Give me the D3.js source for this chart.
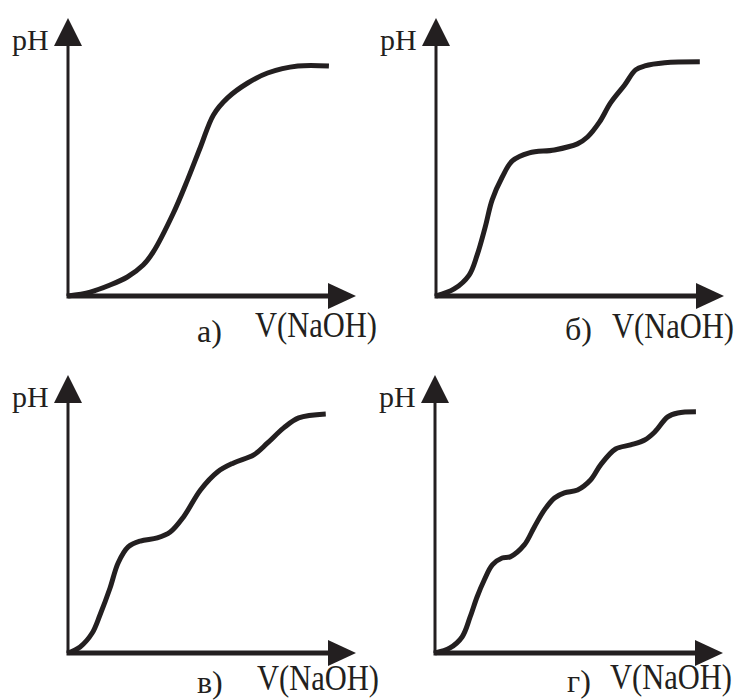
<!DOCTYPE html>
<html>
<head>
<meta charset="utf-8">
<script src="https://cdn.jsdelivr.net/npm/d3@7"></script>
<style>
	body { margin: 0; background: #fff; }
	svg { display: block; }
</style>
</head>
<body>
<svg id="plot" width="755" height="700"></svg>
<script>

// titration curves, V(NaOH) in arbitrary units 0..10, pH 0..14
const V_A  = [0, 0.77, 1.46, 2.06, 2.61, 2.96, 3.66, 4.15, 4.60, 5.05, 5.54, 6.24, 6.93, 7.98, 9.06];
const PH_A = [0, 0.20, 0.56, 0.97, 1.58, 2.25, 4.24, 5.93, 7.61, 9.25, 10.12, 10.88, 11.39, 11.75, 11.75];

const V_B  = [0, 0.63, 1.15, 1.43, 1.71, 1.95, 2.30, 2.65, 3.24, 4.11, 4.91, 5.26, 5.68, 6.06, 6.55, 6.93, 7.25, 7.94, 9.16];
const PH_B = [0, 0.36, 1.07, 2.10, 3.53, 4.91, 6.08, 6.90, 7.31, 7.46, 7.77, 8.12, 8.89, 9.86, 10.78, 11.55, 11.75, 11.91, 11.96];

const V_C  = [0, 0.42, 0.84, 1.11, 1.46, 1.74, 2.09, 2.51, 3.10, 3.55, 4.01, 4.60, 5.19, 5.75, 6.45, 6.93, 7.49, 8.01, 8.95];
const PH_C = [0, 0.31, 1.02, 1.94, 3.32, 4.60, 5.42, 5.72, 5.88, 6.18, 6.95, 8.33, 9.25, 9.71, 10.12, 10.73, 11.50, 12.01, 12.21];

const V_D  = [0, 0.52, 0.94, 1.22, 1.46, 1.71, 1.99, 2.33, 2.61, 3.10, 3.45, 3.80, 4.15, 4.49, 4.95, 5.40, 5.75, 6.27, 6.79, 7.28, 7.63, 8.08, 8.43, 9.06];
const PH_D = [0, 0.26, 0.82, 1.84, 2.86, 3.73, 4.50, 4.85, 4.91, 5.52, 6.44, 7.31, 7.92, 8.18, 8.33, 8.84, 9.61, 10.42, 10.63, 10.88, 11.29, 12.06, 12.26, 12.32];

const PANEL_LABELS = ['а)', 'б)', 'в)', 'г)'];
const Y_LABEL = 'pH';
const X_LABEL = 'V(NaOH)';
const X_MAX = 10;
const Y_MAX = 14.2;

const SERIES = [[V_A, PH_A], [V_B, PH_B], [V_C, PH_C], [V_D, PH_D]];

// layout: origin of each panel and label offsets
const LAYOUT = [
	{ ox: 68,  oy: 296, xl: [187, 41], pl: [129, 46] },
	{ ox: 436, oy: 296, xl: [176, 42], pl: [129, 44] },
	{ ox: 68,  oy: 653, xl: [189, 37], pl: [129, 40] },
	{ ox: 435, oy: 653, xl: [175, 36], pl: [132, 39] }
];

const INK = '#231f20';
const FONT = '"Liberation Serif", "Times New Roman", Times, "DejaVu Serif", serif';

const x = d3.scaleLinear().domain([0, X_MAX]).range([0, 288]);
const y = d3.scaleLinear().domain([0, Y_MAX]).range([0, -278]);

const svg = d3.select('#plot');
svg.append('rect').attr('width', 755).attr('height', 700).attr('fill', '#fff');

SERIES.forEach(([vs, phs], i) => {
	const L = LAYOUT[i];
	const g = svg.append('g').attr('transform', `translate(${L.ox},${L.oy})`);
	const data = vs.map((v, k) => ({ v: v, ph: phs[k] }));

	const xTip = x(X_MAX), yTip = y(Y_MAX);
	const ah = 28, aw = 14;

	// y axis
	g.append('line')
		.attr('x1', 0).attr('y1', 0).attr('x2', 0).attr('y2', yTip + ah - 2)
		.attr('stroke', INK).attr('stroke-width', 3);
	g.append('path')
		.attr('d', `M0,${yTip} L${aw},${yTip + ah} L${-aw},${yTip + ah} Z`)
		.attr('fill', INK);

	// x axis
	g.append('line')
		.attr('x1', -1.5).attr('y1', 0).attr('x2', xTip - ah + 2).attr('y2', 0)
		.attr('stroke', INK).attr('stroke-width', 5);
	g.append('path')
		.attr('d', `M${xTip},0 L${xTip - ah},${-13} L${xTip - ah},${13} Z`)
		.attr('fill', INK);

	// curve
	const line = d3.line()
		.x(d => x(d.v))
		.y(d => y(d.ph))
		.curve(d3.curveCatmullRom.alpha(0.5));
	g.append('path')
		.datum(data)
		.attr('d', line)
		.attr('fill', 'none')
		.attr('stroke', INK)
		.attr('stroke-width', 5)
		.attr('stroke-linejoin', 'round');

	// labels
	g.append('text')
		.attr('x', -56).attr('y', -246)
		.attr('font-family', FONT)
		.attr('font-size', 30)
		.attr('fill', INK)
		.text(Y_LABEL);
	g.append('text')
		.attr('x', L.xl[0]).attr('y', L.xl[1])
		.attr('font-family', FONT)
		.attr('font-size', 36)
		.attr('fill', INK)
		.attr('textLength', 122)
		.attr('lengthAdjust', 'spacingAndGlyphs')
		.text(X_LABEL);
	g.append('text')
		.attr('x', L.pl[0]).attr('y', L.pl[1])
		.attr('font-family', FONT)
		.attr('font-size', 32)
		.attr('fill', INK)
		.text(PANEL_LABELS[i]);
});

</script>
</body>
</html>
